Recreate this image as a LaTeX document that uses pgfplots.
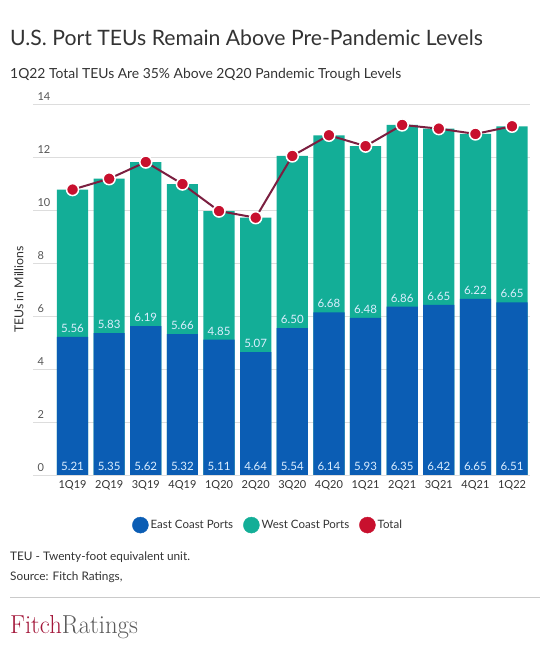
\documentclass[border=0pt]{standalone}
\usepackage{pgfplots}
\pgfplotsset{compat=1.18}
\usepackage{pgfplotstable}
\usepackage{fontspec}
\setmainfont{Lato}
\definecolor{eastc}{HTML}{0B5DB4}
\definecolor{westc}{HTML}{13AE97}
\definecolor{totm}{HTML}{C8102E}
\definecolor{totl}{HTML}{7B1F40}
\definecolor{txt}{HTML}{333333}
\definecolor{tick}{HTML}{555555}
\definecolor{lbl}{HTML}{DCEEFF}
\definecolor{gridc}{HTML}{DDDDDD}
\definecolor{fitch}{HTML}{A3173A}
\definecolor{fitchg}{HTML}{5A5A5A}

\pgfplotstableread{
X East West Total Base
0 5.21 5.56 10.77 0
1 5.35 5.83 11.18 0
2 5.62 6.19 11.81 0
3 5.32 5.66 10.98 0
4 5.11 4.85 9.96 0
5 4.64 5.07 9.71 0
6 5.54 6.50 12.04 0
7 6.14 6.68 12.82 0
8 5.93 6.48 12.41 0
9 6.35 6.86 13.21 0
10 6.42 6.65 13.07 0
11 6.65 6.22 12.87 0
12 6.51 6.65 13.16 0
}\datatable

\begin{document}
\begin{tikzpicture}[x=1pt,y=1pt]
\path[use as bounding box] (0,0) rectangle (550,652);
\node[anchor=base west, inner sep=0, text=txt, font=\fontsize{21.2}{24}\selectfont] at (10,606) {U.S. Port TEUs Remain Above Pre-Pandemic Levels};
\node[anchor=base west, inner sep=0, text=txt, font=\fontsize{13.9}{16}\selectfont] at (10,573) {1Q22 Total TEUs Are 35\% Above 2Q20 Pandemic Trough Levels};
\begin{axis}[
  at={(33pt,177pt)}, anchor=south west,
  scale only axis, width=497pt, height=371pt,
  xmin=-1.08, xmax=12.49, ymin=0, ymax=14,
  axis line style={draw=none},
  ytick={0,2,...,14},
  ymajorgrids, grid style={gridc, line width=0.8pt},
  major tick length=0pt,
  xtick={0,...,12},
  xticklabels={1Q19,2Q19,3Q19,4Q19,1Q20,2Q20,3Q20,4Q20,1Q21,2Q21,3Q21,4Q21,1Q22},
  xticklabel style={font=\fontsize{11}{13}\selectfont, text=txt, yshift=-2pt},
  yticklabel style={font=\fontsize{11}{13}\selectfont, text=tick, anchor=south west, xshift=1pt, yshift=0pt},
  /pgf/number format/assume math mode=true,
  ylabel={TEUs in Millions},
  ylabel style={at={(axis description cs:-0.012,0.5)}, anchor=south, font=\fontsize{12.3}{14}\selectfont, text=txt},
  legend columns=3,
  legend style={draw=none, fill=none, at={(0.473,-0.135)}, anchor=center,
    font=\fontsize{11.5}{13}\selectfont, text=txt,
    /tikz/every even column/.style={column sep=8pt}},
  clip=false,
]
\addplot[ybar, bar width=0.85, bar shift=0pt, fill=westc, draw=none, forget plot] table[x=X, y=Total] {\datatable};
\addplot[ybar, bar width=0.85, bar shift=0pt, fill=eastc, draw=none, forget plot,
  point meta=explicit,
  nodes near coords={\pgfmathprintnumber[fixed,fixed zerofill,precision=2,assume math mode=true]{\pgfplotspointmeta}},
  every node near coord/.style={anchor=base, yshift=4.5pt, inner sep=0pt, text=lbl, font=\fontsize{11.5}{13}\selectfont}
  ] table[x=X, y=East, meta=West] {\datatable};
\addplot[draw=none, mark=none, forget plot,
  point meta=explicit,
  nodes near coords={\pgfmathprintnumber[fixed,fixed zerofill,precision=2,assume math mode=true]{\pgfplotspointmeta}},
  every node near coord/.style={anchor=base, yshift=4pt, inner sep=0pt, text=lbl, font=\fontsize{11.5}{13}\selectfont}
  ] table[x=X, y=Base, meta=East] {\datatable};
\addplot[totl, line width=2pt, mark=*, mark size=6pt,
  mark options={fill=totm, draw=white, line width=1.5pt}, forget plot] table[x=X, y=Total] {\datatable};
\addlegendimage{legend image code/.code={\fill[eastc] (0pt,0pt) circle (8pt);}}
\addlegendentry{East Coast Ports}
\addlegendimage{legend image code/.code={\fill[westc] (0pt,0pt) circle (8pt);}}
\addlegendentry{West Coast Ports}
\addlegendimage{legend image code/.code={\fill[totm] (0pt,0pt) circle (8pt);}}
\addlegendentry{Total}
\end{axis}
\node[anchor=base west, inner sep=0, text=txt, font=\fontsize{11.8}{13}\selectfont] at (10,91) {TEU - Twenty-foot equivalent unit.};
\node[anchor=base west, inner sep=0, text=txt, font=\fontsize{11.8}{13}\selectfont] at (10,71) {Source: Fitch Ratings,};
\draw[gridc!80!gray, line width=0.8pt] (10,55) -- (540,55);
\node[anchor=base west, inner sep=0, font=\fontfamily{lmr}\fontsize{26}{28}\selectfont] at (10,18) {\scalebox{0.95}[1]{\textcolor{fitch}{Fitch}\textcolor{fitchg}{Ratings}}};
\end{tikzpicture}
\end{document}
